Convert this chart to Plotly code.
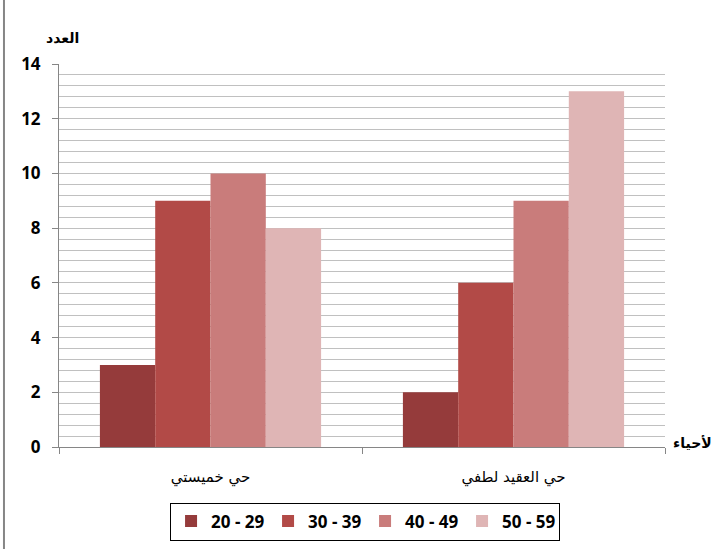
import plotly.graph_objects as go

# Neighbourhoods (x categories) and age groups (series)
neighbourhoods = ["حي خميستي", "حي العقيد لطفي"]
age_groups = ["20 - 29", "30 - 39", "40 - 49", "50 - 59"]
counts = {
    "20 - 29": [3, 2],
    "30 - 39": [9, 6],
    "40 - 49": [10, 9],
    "50 - 59": [8, 13],
}
colors = ["#953B3B", "#B24A47", "#C97C7B", "#DFB5B5"]

y_ticks = [0, 2, 4, 6, 8, 10, 12, 14]

fig = go.Figure()
for grp, col in zip(age_groups, colors):
    fig.add_trace(go.Bar(
        name=grp,
        x=neighbourhoods,
        y=counts[grp],
        marker=dict(color=col, line=dict(width=0)),
    ))

fig.update_layout(
    width=713,
    height=549,
    margin=dict(l=59, r=48, t=64, b=102),
    plot_bgcolor="white",
    paper_bgcolor="white",
    barmode="group",
    bargap=0.27,
    bargroupgap=0,
    font=dict(family="Open Sans, DejaVu Sans", color="black"),
    showlegend=True,
    legend=dict(
        orientation="h",
        xref="container", yref="container",
        x=0.512, xanchor="center",
        y=0.05, yanchor="middle",
        bordercolor="black",
        borderwidth=1,
        font=dict(family="Open Sans", size=17, color="black", weight=700),
        itemwidth=30,
        entrywidth=52,
        traceorder="normal",
    ),
)

fig.update_xaxes(
    type="category",
    automargin=False,
    showline=True,
    linecolor="#868686",
    linewidth=1,
    ticks="outside",
    tickson="boundaries",
    ticklen=6,
    tickcolor="#868686",
    showgrid=False,
    tickfont=dict(family="DejaVu Sans", size=15, color="black"),
    ticklabelstandoff=16,
)

fig.update_yaxes(
    range=[0, 14],
    automargin=False,
    tickvals=y_ticks,
    showline=True,
    linecolor="#868686",
    linewidth=1,
    ticks="outside",
    ticklen=6,
    tickcolor="#868686",
    showgrid=True,
    gridcolor="#C0C0C0",
    gridwidth=1,
    zeroline=False,
    minor=dict(dtick=0.4, showgrid=True, gridcolor="#C0C0C0", gridwidth=1, ticks=""),
    tickfont=dict(family="Open Sans", size=17, color="black", weight=700),
    ticklabelstandoff=8,
)

# Axis titles
fig.add_annotation(
    text="<b>العدد</b>", xref="paper", yref="paper",
    x=0.005, y=1.068, xanchor="center", yanchor="middle",
    showarrow=False, font=dict(family="DejaVu Sans", size=14, color="black"),
)
fig.add_annotation(
    text="<b>لأحياء</b>", xref="paper", yref="paper",
    x=1.01, y=0.01, xanchor="left", yanchor="middle",
    showarrow=False, font=dict(family="DejaVu Sans", size=14, color="black"),
)

# Outer frame line on the left edge
fig.add_shape(
    type="line", xref="paper", yref="paper",
    x0=-0.0908, x1=-0.0908, y0=-0.3, y1=1.2,
    line=dict(color="#868686", width=2),
)

fig.write_html("out.html")
